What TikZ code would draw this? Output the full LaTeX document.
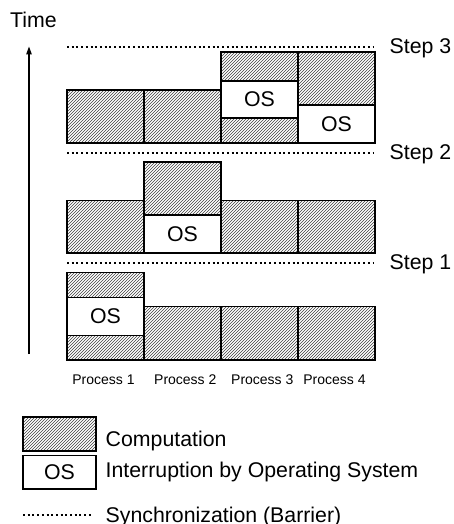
\documentclass[tikz,border=0pt]{standalone}
\usepackage{fontspec}
\setmainfont{Liberation Sans}
\usetikzlibrary{patterns,arrows.meta}
\tikzset{
  comp/.style={draw=black, line width=1.2pt, pattern=north east lines, pattern color=black!75},
  osbox/.style={draw=black, line width=1.2pt, fill=white},
  barrier/.style={line width=2pt, dash pattern=on 2pt off 2.7pt},
  big/.style={font=\fontsize{21.3}{25}\selectfont, inner sep=0pt},
  small/.style={font=\fontsize{14}{17}\selectfont, inner sep=0pt},
  ostext/.style={font=\fontsize{21.3}{25}\selectfont, inner sep=0pt}
}
\begin{document}
\begin{tikzpicture}[x=1pt,y=-1pt]
\useasboundingbox (0,0) rectangle (454,524);
% time axis
\node[big, anchor=base west] (time) at (10,28) {Time};
\coordinate (tbot) at (29,354);
\coordinate (ttop) at (29,46.5);
\draw[line width=1.2pt, -{Triangle[length=8pt,width=5.5pt]}] (tbot) -- (ttop);
% barriers
\coordinate (b3l) at (67,46.7); \coordinate (b3r) at (374,46.7);
\coordinate (b2l) at (67,152.7); \coordinate (b2r) at (374,152.7);
\coordinate (b1l) at (67,262.7); \coordinate (b1r) at (374,262.7);
\draw[barrier] (b3l) -- (b3r);
\draw[barrier] (b2l) -- (b2r);
\draw[barrier] (b1l) -- (b1r);
\node[big, anchor=base west] (s3) at (389.5,53.7) {Step 3};
\node[big, anchor=base west] (s2) at (389.5,159.7) {Step 2};
\node[big, anchor=base west] (s1) at (389.5,269.7) {Step 1};
% step 3 row
\draw[comp] (67,90) rectangle (144,143);
\draw[comp] (144,90) rectangle (221,143);
\draw[comp] (221,52) rectangle (298,81);
\draw[osbox] (221,81) rectangle node[ostext] (os3a) {OS} (298,118);
\draw[comp] (221,118) rectangle (298,143);
\draw[comp] (298,52) rectangle (375,105);
\draw[osbox] (298,105) rectangle node[ostext] (os3b) {OS} (375,143);
% step 2 row
\draw[comp] (67,200.7) rectangle (144,253);
\draw[comp] (144,162) rectangle (221,215);
\draw[osbox] (144,215) rectangle node[ostext] (os2) {OS} (221,253);
\draw[comp] (221,200.7) rectangle (298,253);
\draw[comp] (298,200.7) rectangle (375,253);
% step 1 row
\draw[comp] (67,272.7) rectangle (144,297.3);
\draw[osbox] (67,297.3) rectangle node[ostext] (os1) {OS} (144,335.3);
\draw[comp] (67,335.3) rectangle (144,360);
\draw[comp] (144,306.7) rectangle (221,360);
\draw[comp] (221,306.7) rectangle (298,360);
\draw[comp] (298,306.7) rectangle (375,360);
% process labels
\node[small, anchor=base] (p1) at (103.5,384.3) {Process 1};
\node[small, anchor=base] (p2) at (185.3,384.3) {Process 2};
\node[small, anchor=base] (p3) at (262.3,384.3) {Process 3};
\node[small, anchor=base] (p4) at (334.5,384.3) {Process 4};
% legend
\draw[comp] (23,417) rectangle (96,451);
\node[big, anchor=base west] (lc) at (105.5,446) {Computation};
\draw[osbox] (23,455.7) rectangle node[ostext] (los) {OS} (96,489);
\node[big, anchor=base west] (li) at (105.5,477.3) {Interruption by Operating System};
\coordinate (ll) at (23,514.5); \coordinate (lr) at (92,514.5);
\draw[barrier] (ll) -- (lr);
\node[big, anchor=base west] (ls) at (105.5,522.5) {Synchronization (Barrier)};
\end{tikzpicture}
\end{document}
